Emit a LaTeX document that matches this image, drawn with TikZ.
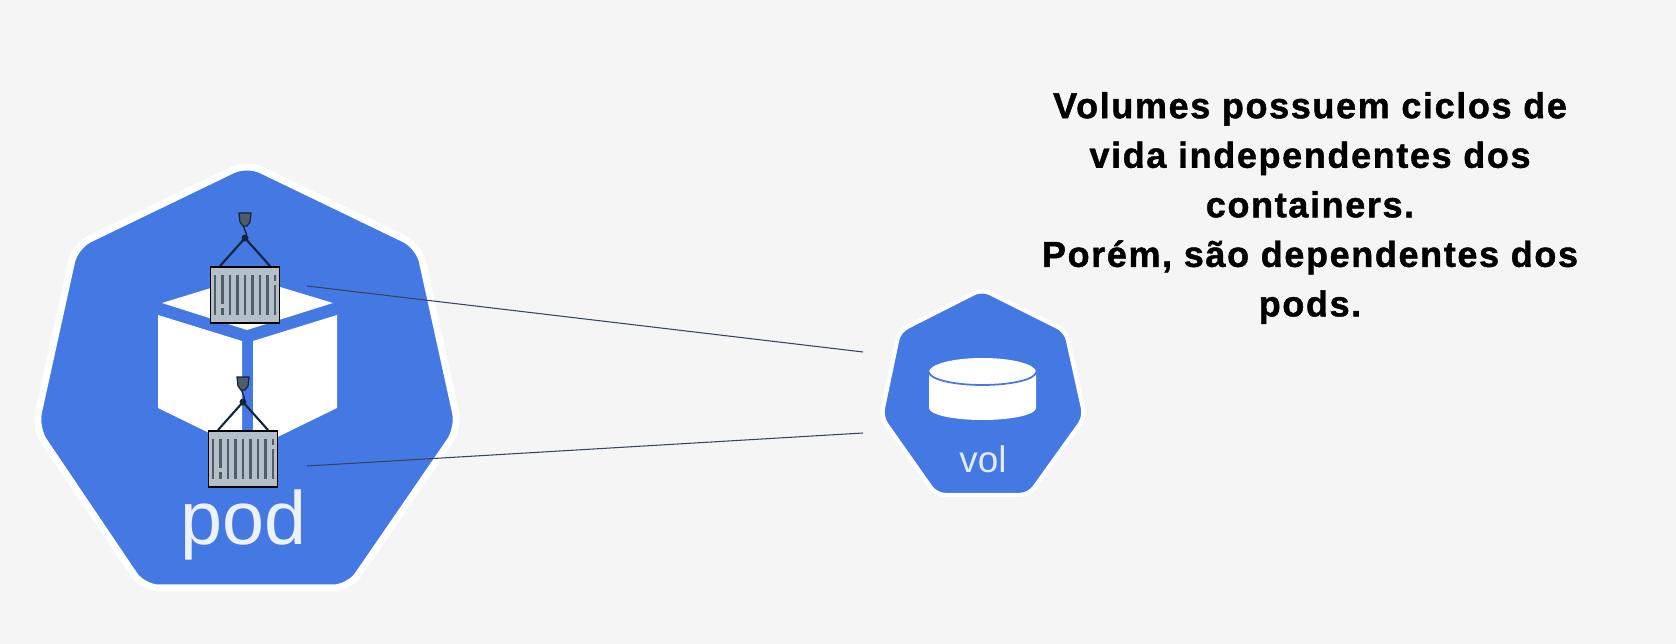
\documentclass[tikz,border=0pt]{standalone}
\usepackage{fontspec}
\setmainfont{Liberation Sans}
\newfontfamily\notefont[LetterSpace=4.5,FakeBold=1.2]{Liberation Sans}
\usetikzlibrary{positioning,calc}

\definecolor{kubeblue}{HTML}{4478E3}
\definecolor{pagegray}{HTML}{F5F5F5}
\definecolor{boxgray}{HTML}{B4BFC7}
\definecolor{ribgray}{HTML}{4F5D68}
\definecolor{ropeblue}{HTML}{14233F}

\tikzset{
    shell/.style={fill=kubeblue, draw=white, line width=4pt, rounded corners=9pt, line join=round},
    cubeface/.style={fill=white},
    cargobox/.style={rectangle, draw=black, fill=boxgray, line width=1.1pt, minimum width=1.38cm, minimum height=1.12cm, inner sep=0pt},
    rope/.style={draw=ropeblue, line width=1.2pt},
    rib/.style={draw=ribgray, line width=1.7pt},
    link/.style={draw=ropeblue!85, line width=0.6pt},
    note/.style={align=center, font=\notefont\bfseries\fontsize{20.5}{28.2}\selectfont, text=black}
}

% One hanging container, #1 is the node name and #2 its centre
\newcommand{\cargo}[2]{
    \node[cargobox] (#1) at (#2) {};
    \coordinate (#1top) at ($(#1.north)+(0,-28)$);
    \coordinate (#1hook) at ($(#1.north)+(0,-47)$);
    \foreach \x in {-30,-22.5,...,30}
        \draw[rib] ($(#1.center)+(\x,-20)$) -- ($(#1.center)+(\x,20)$);
    % gaps in the second and the last rib
    \draw[boxgray, line width=1.8pt] ($(#1.center)+(-22.5,9)$) -- ($(#1.center)+(-22.5,13)$);
    \draw[boxgray, line width=1.8pt] ($(#1.center)+(30,-14)$) -- ($(#1.center)+(30,-10)$);
    \draw[rope] (#1top) -- ($(#1.north)+(-25,0)$);
    \draw[rope] (#1top) -- ($(#1.north)+(25,0)$);
    \draw[rope, line width=0.8pt] (#1top) .. controls ($(#1top)+(5,-7)$) and ($(#1top)+(-5,-7)$) .. (#1hook);
    \fill[ropeblue] (#1top) circle (3.5);
    \filldraw[fill=ribgray, draw=ropeblue, line width=0.7pt] ($(#1hook)+(-6,-6)$) -- ($(#1hook)+(6,-6)$) -- ($(#1hook)+(5,3)$) -- ($(#1hook)+(2,7)$) -- ($(#1hook)+(-2,7)$) -- ($(#1hook)+(-5,3)$) -- cycle;
}

\begin{document}
\begin{tikzpicture}[x=0.02cm, y=-0.02cm]

    % Page
    \fill[pagegray] (0,0) rectangle (1676,644);
    \useasboundingbox (0,0) rectangle (1676,644);

    % Pod shell
    \draw[shell] (247,163) -- (419,246) -- (459,428) -- (349,588) -- (143,588) -- (35,428) -- (75,246) -- cycle;

    % Cube
    \fill[cubeface] (162,303) -- (247,277) -- (333,303) -- (247,330) -- cycle;
    \fill[cubeface] (158,315) -- (242,341) -- (242,449) -- (158,408) -- cycle;
    \fill[cubeface] (337,315) -- (253,341) -- (253,449) -- (337,408) -- cycle;

    % Containers
    \cargo{cargotop}{245,295}
    \cargo{cargolow}{243,459}

    \node[anchor=base, font=\fontsize{43}{43}\selectfont, text=white!90!kubeblue] (podlabel) at (244,545) {pod};

    % Volume shell
    \draw[shell, line width=2.5pt, rounded corners=5pt] (982,289) -- (1066,331) -- (1085,417) -- (1029,495) -- (936,495) -- (881,417) -- (899,331) -- cycle;

    % Disk
    \fill[white] (929,372) -- (929,408) arc[start angle=180, end angle=0, x radius=53.5, y radius=12] -- (1036,372) -- cycle;
    \fill[white] (982.5,372) ellipse[x radius=53.5, y radius=14];
    \draw[kubeblue, line width=1pt] (929,372) arc[start angle=180, end angle=0, x radius=53.5, y radius=13];

    \node[anchor=base, font=\fontsize{21}{21}\selectfont, text=white!85!kubeblue] (vollabel) at (983,473) {vol};

    % Links from the containers to the volume
    \coordinate (linktop) at (307,286);
    \coordinate (linklow) at (307,466);
    \coordinate (volupper) at (863,352);
    \coordinate (vollower) at (863,433);
    \draw[link] (linktop) -- (volupper);
    \draw[link] (linklow) -- (vollower);

    % Note
    \node[note] (noteblock) at (1310,208) {Volumes possuem ciclos de\\vida independentes dos\\containers.\\Porém, são dependentes dos\\pods.};

\end{tikzpicture}
\end{document}
